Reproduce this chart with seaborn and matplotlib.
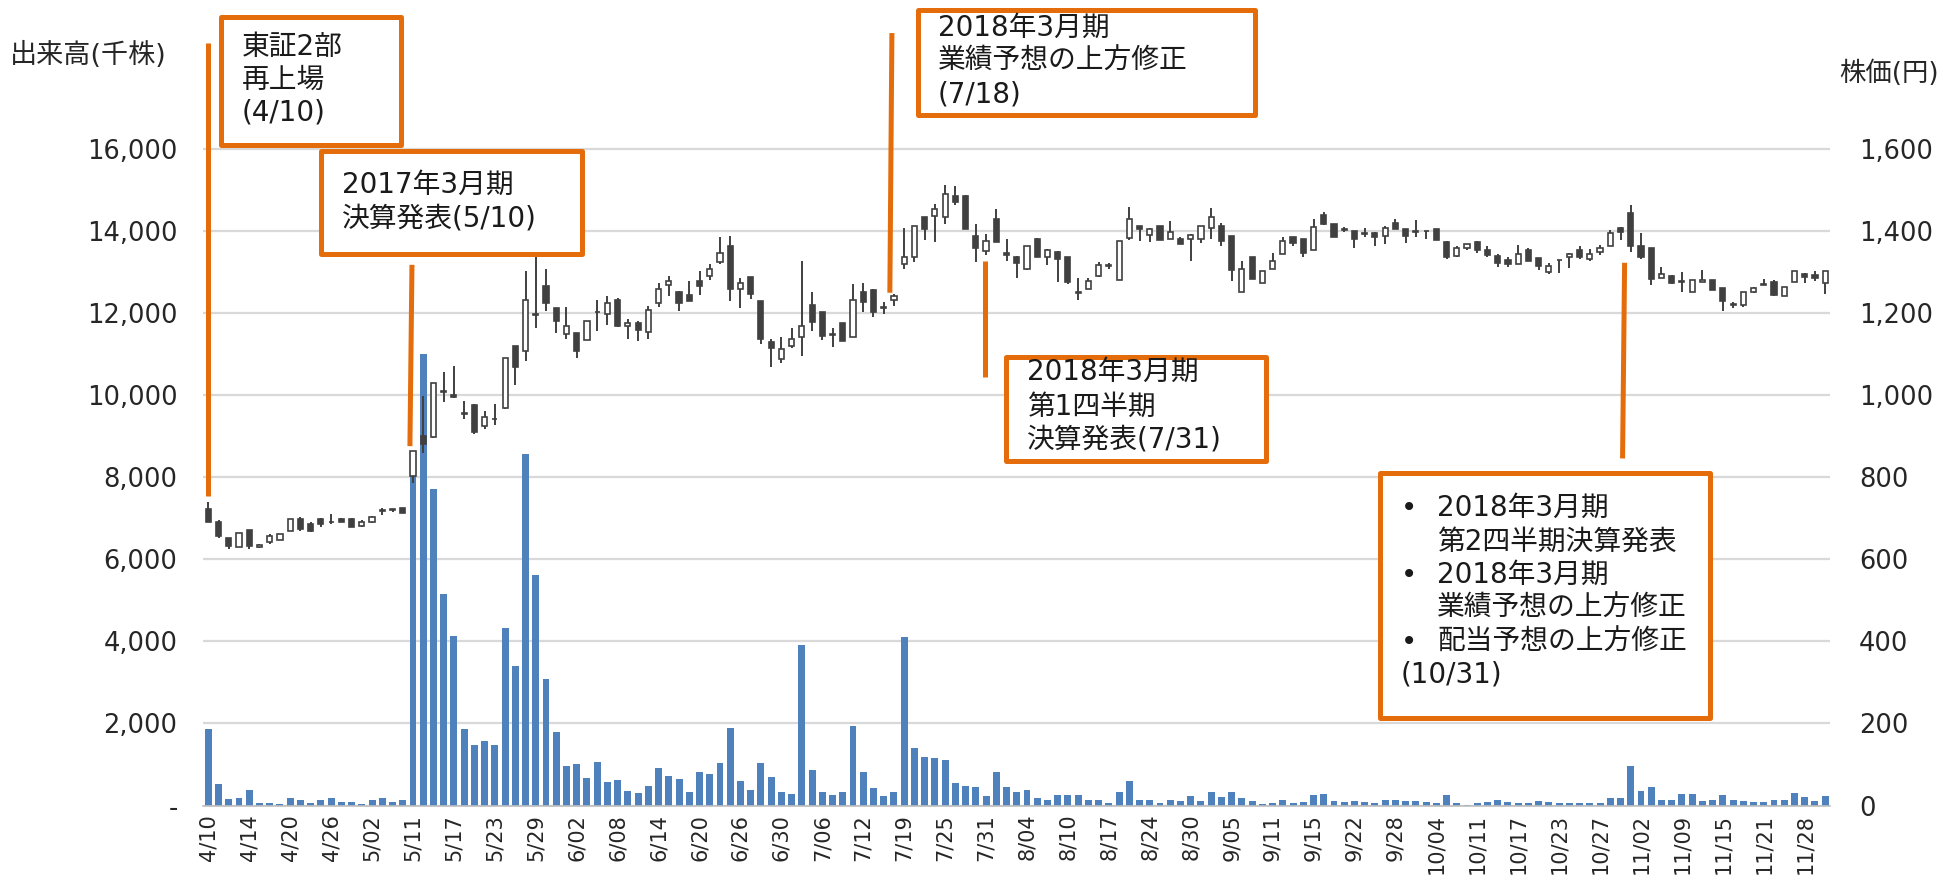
import numpy as np
import matplotlib
matplotlib.use("Agg")
import matplotlib.pyplot as plt
from matplotlib.patches import Rectangle
from matplotlib.ticker import FuncFormatter, FixedLocator
import seaborn as sns

sns.set_style("white")
FAM = ["DejaVu Sans", "Noto Sans CJK JP"]
plt.rcParams["font.family"] = FAM

# ---------------- data ----------------
opens = [722, 691, 651, 631, 671, 630, 643, 647, 669, 699, 686, 699, 690, 698, 698, 681, 691, 718, 722, 724,
         803, 901, 899, 1007, 1000, 958, 976, 925, 941, 970, 1121, 1108, 1199, 1267, 1212, 1149, 1153, 1134, 1202, 1198,
         1233, 1169, 1177, 1155, 1226, 1270, 1252, 1245, 1279, 1291, 1324, 1364, 1259, 1289, 1230, 1130, 1088, 1119, 1141, 1220,
         1202, 1148, 1175, 1143, 1251, 1257, 1214, 1233, 1320, 1338, 1434, 1436, 1434, 1486, 1485, 1389, 1352, 1429, 1348, 1338,
         1308, 1381, 1338, 1350, 1336, 1251, 1260, 1291, 1315, 1282, 1383, 1413, 1390, 1413, 1381, 1382, 1381, 1381, 1407, 1413,
         1389, 1251, 1336, 1273, 1308, 1344, 1385, 1381, 1354, 1439, 1417, 1406, 1401, 1395, 1395, 1389, 1420, 1405, 1400, 1401,
         1405, 1374, 1340, 1360, 1374, 1355, 1340, 1330, 1320, 1355, 1334, 1301, 1330, 1336, 1355, 1332, 1350, 1364, 1408, 1444,
         1363, 1360, 1287, 1291, 1277, 1252, 1275, 1282, 1261, 1222, 1220, 1252, 1271, 1277, 1241, 1275, 1295, 1293, 1273]
highs = [740, 696, 651, 664, 671, 637, 661, 662, 699, 704, 691, 702, 710, 700, 700, 696, 705, 726, 723, 724,
         864, 999, 1031, 1056, 1072, 986, 978, 962, 978, 1091, 1121, 1303, 1347, 1308, 1212, 1216, 1153, 1180, 1233, 1242,
         1236, 1187, 1180, 1218, 1273, 1291, 1254, 1279, 1303, 1321, 1387, 1389, 1285, 1289, 1230, 1138, 1143, 1163, 1328, 1251,
         1204, 1163, 1175, 1271, 1273, 1258, 1228, 1246, 1407, 1413, 1434, 1466, 1512, 1511, 1488, 1417, 1393, 1454, 1382, 1340,
         1364, 1383, 1356, 1352, 1336, 1287, 1287, 1324, 1322, 1375, 1460, 1413, 1407, 1413, 1425, 1386, 1393, 1412, 1456, 1419,
         1389, 1328, 1336, 1303, 1346, 1387, 1385, 1381, 1429, 1446, 1417, 1411, 1401, 1407, 1397, 1413, 1429, 1405, 1428, 1401,
         1405, 1376, 1364, 1369, 1377, 1364, 1344, 1336, 1366, 1360, 1334, 1323, 1330, 1348, 1363, 1356, 1366, 1403, 1411, 1464,
         1395, 1360, 1312, 1293, 1301, 1282, 1306, 1282, 1261, 1228, 1251, 1265, 1284, 1282, 1265, 1303, 1297, 1303, 1303]
lows = [691, 652, 626, 631, 626, 627, 637, 647, 669, 669, 667, 678, 686, 690, 678, 680, 688, 708, 716, 714,
        786, 860, 897, 984, 994, 942, 906, 919, 927, 967, 1025, 1084, 1164, 1206, 1153, 1138, 1090, 1134, 1157, 1171,
        1167, 1138, 1132, 1138, 1216, 1242, 1206, 1229, 1245, 1282, 1320, 1229, 1212, 1234, 1125, 1069, 1078, 1116, 1096, 1156,
        1135, 1118, 1133, 1141, 1204, 1190, 1198, 1218, 1308, 1324, 1379, 1373, 1417, 1464, 1405, 1326, 1342, 1374, 1328, 1287,
        1306, 1336, 1317, 1275, 1272, 1233, 1258, 1289, 1308, 1280, 1379, 1377, 1373, 1378, 1381, 1369, 1328, 1370, 1382, 1363,
        1279, 1251, 1283, 1273, 1308, 1344, 1364, 1336, 1354, 1415, 1385, 1397, 1360, 1387, 1364, 1369, 1405, 1371, 1387, 1381,
        1379, 1332, 1336, 1355, 1347, 1336, 1312, 1312, 1320, 1328, 1306, 1295, 1298, 1311, 1332, 1328, 1342, 1364, 1378, 1350,
        1332, 1269, 1287, 1271, 1251, 1251, 1275, 1257, 1206, 1212, 1214, 1250, 1268, 1241, 1241, 1275, 1273, 1279, 1248]
closes = [691, 656, 633, 664, 633, 635, 656, 662, 699, 673, 669, 686, 692, 691, 680, 691, 704, 720, 721, 714,
          864, 881, 1031, 1010, 995, 955, 911, 946, 943, 1091, 1070, 1233, 1195, 1226, 1180, 1169, 1108, 1180, 1204, 1225,
          1169, 1177, 1159, 1208, 1260, 1279, 1226, 1229, 1267, 1309, 1348, 1259, 1273, 1248, 1137, 1116, 1112, 1138, 1169, 1179,
          1145, 1147, 1133, 1233, 1228, 1204, 1212, 1242, 1338, 1413, 1405, 1454, 1490, 1470, 1405, 1360, 1375, 1374, 1342, 1322,
          1364, 1338, 1354, 1332, 1277, 1250, 1279, 1317, 1316, 1375, 1429, 1405, 1405, 1378, 1399, 1369, 1390, 1412, 1434, 1377,
          1306, 1308, 1283, 1303, 1328, 1377, 1371, 1348, 1409, 1417, 1385, 1404, 1381, 1393, 1387, 1407, 1405, 1389, 1399, 1400,
          1379, 1336, 1360, 1368, 1355, 1343, 1322, 1320, 1344, 1328, 1314, 1314, 1329, 1344, 1336, 1344, 1360, 1395, 1397, 1363,
          1338, 1283, 1296, 1273, 1276, 1282, 1281, 1257, 1230, 1221, 1251, 1261, 1270, 1245, 1265, 1303, 1289, 1285, 1303]
volumes = [1870, 528, 163, 187, 374, 65, 65, 41, 171, 130, 65, 122, 187, 81, 81, 41, 146, 195, 81, 138,
           8114, 11008, 7707, 5163, 4138, 1854, 1480, 1577, 1480, 4317, 3406, 8577, 5626, 3089, 1789, 959, 1008, 675, 1049, 561,
           610, 358, 293, 472, 911, 724, 642, 325, 813, 780, 1033, 1894, 594, 366, 1024, 691, 325, 276, 3911, 862,
           341, 244, 325, 1927, 805, 423, 236, 317, 4108, 1390, 1171, 1154, 1098, 537, 472, 439, 228, 805, 447, 325,
           390, 179, 146, 268, 252, 268, 130, 122, 73, 325, 602, 122, 122, 73, 122, 98, 228, 106, 325, 211,
           333, 195, 114, 41, 57, 130, 65, 81, 252, 276, 114, 81, 106, 81, 57, 138, 122, 114, 114, 81,
           73, 252, 49, 16, 65, 81, 146, 81, 73, 73, 106, 81, 65, 65, 57, 57, 57, 187, 187, 951,
           350, 463, 138, 138, 276, 285, 114, 122, 252, 146, 98, 81, 81, 138, 122, 293, 203, 114, 228]
tick_labels = ["4/10", "4/14", "4/20", "4/26", "5/02", "5/11", "5/17", "5/23", "5/29", "6/02",
               "6/08", "6/14", "6/20", "6/26", "6/30", "7/06", "7/12", "7/19", "7/25", "7/31",
               "8/04", "8/10", "8/17", "8/24", "8/30", "9/05", "9/11", "9/15", "9/22", "9/28",
               "10/04", "10/11", "10/17", "10/23", "10/27", "11/02", "11/09", "11/15", "11/21", "11/28"]
vol_ticks = [0, 2000, 4000, 6000, 8000, 10000, 12000, 14000, 16000]
price_ticks = [0, 200, 400, 600, 800, 1000, 1200, 1400, 1600]

# ---------------- layout ----------------
W, H = 1943, 893
fig = plt.figure(figsize=(W / 100, H / 100), dpi=100)
ax = fig.add_axes([203.2 / W, 1 - 805.5 / H, (1830.3 - 203.2) / W, (805.5 - 67.1) / H])

n = len(volumes)
idx = np.arange(n)
sns.barplot(x=idx, y=volumes, ax=ax, color="#4F81BD", saturation=1, width=0.68,
            errorbar=None, linewidth=0)
ax.set_xlim(-0.5, n - 0.5)
ax.set_ylim(0, 18000)
ax.set_yticks(vol_ticks)
ax.yaxis.set_major_formatter(FuncFormatter(lambda v, p: "-" if v == 0 else f"{v:,.0f}"))
ax.set_xticks(list(range(0, n, 4)))
ax.set_xticklabels(tick_labels, rotation=90, fontsize=15, color="#262626")
ax.xaxis.set_minor_locator(FixedLocator(np.arange(-0.5, n, 1.0)))
ax.tick_params(axis="x", which="major", length=0, pad=6)
ax.tick_params(axis="x", which="minor", length=6, width=1, color="#BFBFBF")
ax.tick_params(axis="y", length=0, pad=18.5, labelsize=18.5, labelcolor="#262626")
ax.set_xlabel("")
ax.set_ylabel("")
ax.yaxis.grid(True, color="#D9D9D9", lw=1.6)
ax.xaxis.grid(False)
ax.set_axisbelow(True)
for s in ["left", "right", "top"]:
    ax.spines[s].set_visible(False)
ax.spines["bottom"].set_color("#BFBFBF")
ax.spines["bottom"].set_linewidth(1.2)

ax2 = ax.twinx()
ax2.set_ylim(0, 1800)
ax2.set_yticks(price_ticks)
ax2.yaxis.set_major_formatter(FuncFormatter(lambda v, p: f"{v:,.0f}"))
ax2.tick_params(axis="y", length=0, pad=20.5, labelsize=18.5, labelcolor="#262626")
for s in ax2.spines.values():
    s.set_visible(False)
ax2.grid(False)

o = np.array(opens, float); c = np.array(closes, float)
hi = np.array(highs, float); lo = np.array(lows, float)
dark = "#404040"
ax2.vlines(idx, lo, hi, colors=dark, lw=1.4, zorder=2)
up = c >= o
bottoms = np.minimum(o, c)
heights = np.maximum(np.abs(c - o), 1.5)
ax2.bar(idx[up], heights[up], bottom=bottoms[up], width=0.5, color="white",
        edgecolor=dark, linewidth=1.2, zorder=3)
ax2.bar(idx[~up], heights[~up], bottom=bottoms[~up], width=0.5, color=dark,
        edgecolor=dark, linewidth=1.2, zorder=3)
ax2.set_xlim(-0.5, n - 0.5)

# ---------------- annotations ----------------
ORANGE = "#E46C0A"
lines = [((0.0, 1859), (0.0, 754)),
         ((19.9, 1318), (19.7, 876)),
         ((66.8, 1883), (66.6, 1250)),
         ((75.9, 1327), (75.9, 1045)),
         ((138.4, 1323), (138.2, 846))]
for (x0, y0), (x1, y1) in lines:
    ax2.plot([x0, x1], [y0, y1], color=ORANGE, lw=3.6, clip_on=False, zorder=5,
             solid_capstyle="butt")

def box(x0, y0, x1, y1):
    fig.add_artist(Rectangle((x0 / W, 1 - y1 / H), (x1 - x0) / W, (y1 - y0) / H,
                             transform=fig.transFigure, facecolor="white",
                             edgecolor=ORANGE, lw=3.6, joinstyle="round", zorder=6))

def txt(x, y, s, size=20):
    fig.text(x / W, 1 - y / H, s, ha="left", va="center", fontsize=size,
             family=FAM, color="#1a1a1a", zorder=7)

box(221, 17, 401, 145)
for y, s in zip([47, 80, 113], ["東証2部", "再上場", "(4/10)"]):
    txt(242, y, s)

box(321, 151, 582, 254)
for y, s in zip([185, 218], ["2017年3月期", "決算発表(5/10)"]):
    txt(342, y, s)

box(918, 10, 1255, 115)
for y, s in zip([28, 61, 94], ["2018年3月期", "業績予想の上方修正", "(7/18)"]):
    txt(938, y, s)

box(1006, 357, 1266, 461)
for y, s in zip([372, 407, 440], ["2018年3月期", "第1四半期", "決算発表(7/31)"]):
    txt(1027, y, s)

box(1380, 473, 1710, 718)
for y, b, s in zip([508, 542, 575, 608, 642], ["•", "", "•", "", "•"],
                   ["2018年3月期", "第2四半期決算発表", "2018年3月期", "業績予想の上方修正", "配当予想の上方修正"]):
    if b:
        txt(1401, y, b)
    txt(1437, y, s)
txt(1401, 675, "(10/31)")

fig.text(10 / W, 1 - 55 / H, "出来高(千株)", ha="left", va="center", fontsize=19.5,
         family=FAM, color="#262626")
fig.text(1839 / W, 1 - 74 / H, "株価(円)", ha="left", va="center", fontsize=19,
         family=FAM, color="#262626")

fig.savefig("out.png", dpi=100)
